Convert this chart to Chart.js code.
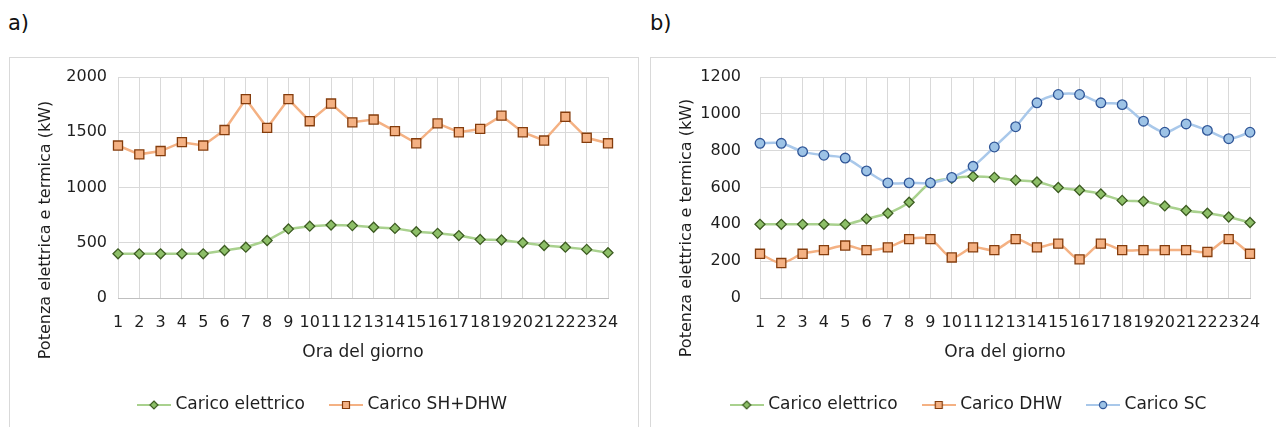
<!DOCTYPE html>
<html>
<head>
<meta charset="utf-8">
<script src="https://cdn.jsdelivr.net/npm/chart.js@4.4.1/dist/chart.umd.min.js"></script>
<style>
  html, body { margin: 0; padding: 0; background: #fff; width: 1276px; height: 427px; overflow: hidden; position: relative; font-family: 'DejaVu Sans', sans-serif; }
  .tag { position: absolute; top: 13px; font-size: 21px; line-height: 21px; color: #111; }
  .box { position: absolute; top: 57px; height: 420px; border: 1px solid #d9d9d9; background: #fff; }
  .box canvas { position: absolute; left: 0; top: 0; }
</style>
</head>
<body>
<div class="tag" style="left:8px">a)</div>
<div class="tag" style="left:650px">b)</div>
<div class="box" style="left:9px;width:628px"><canvas id="chartA" width="628" height="369"></canvas></div>
<div class="box" style="left:650px;width:638px"><canvas id="chartB" width="638" height="369"></canvas></div>
<script>
const hours = ['1','2','3','4','5','6','7','8','9','10','11','12','13','14','15','16','17','18','19','20','21','22','23','24'];

// electric load, same profile in both panels (kW)
const caricoElettrico = [400, 400, 400, 400, 400, 430, 460, 520, 625, 650, 660, 655, 640, 630, 600, 585, 565, 530, 525, 500, 475, 460, 440, 410];
// panel a: space heating + DHW (kW)
const caricoShDhw = [1380, 1300, 1330, 1410, 1380, 1520, 1800, 1540, 1800, 1600, 1760, 1590, 1615, 1510, 1400, 1580, 1500, 1530, 1650, 1500, 1425, 1640, 1450, 1400];
// panel b: DHW only and space cooling (kW)
const caricoDhw = [240, 190, 240, 260, 285, 260, 275, 320, 320, 220, 275, 260, 320, 275, 295, 210, 295, 260, 260, 260, 260, 250, 320, 240];
const caricoSc = [840, 840, 795, 775, 760, 690, 625, 625, 625, 655, 715, 820, 930, 1060, 1105, 1105, 1060, 1050, 960, 900, 945, 910, 865, 900];

const yTicksA = [0, 500, 1000, 1500, 2000];
const yTicksB = [0, 200, 400, 600, 800, 1000, 1200];

const TEXT = '#1e1e1e';
const GRID = '#d9d9d9';
const FONT = 'DejaVu Sans';

const styles = {
  elettrico: { line: '#a9d18e', fill: '#8dbf68', edge: '#3d5c22', shape: 'rectRot', r: 5 },
  orange:    { line: '#f4b183', fill: '#f4b183', edge: '#843c0c', shape: 'rect', r: 6.4 },
  blue:      { line: '#a9c8ea', fill: '#9dc3e6', edge: '#2f5597', shape: 'circle', r: 4.8 }
};

// small line+marker icon used in the legend
function legendIcon(st) {
  const c = document.createElement('canvas');
  c.width = 34; c.height = 12;
  const g = c.getContext('2d');
  g.strokeStyle = st.line; g.lineWidth = 2;
  g.beginPath(); g.moveTo(0, 6); g.lineTo(34, 6); g.stroke();
  g.fillStyle = st.fill; g.strokeStyle = st.edge; g.lineWidth = 1.2;
  g.beginPath();
  if (st.shape === 'rectRot') { g.moveTo(17, 2); g.lineTo(21, 6); g.lineTo(17, 10); g.lineTo(13, 6); g.closePath(); }
  else if (st.shape === 'rect') { g.rect(13.5, 2.5, 7, 7); }
  else { g.arc(17, 6, 3.6, 0, Math.PI * 2); }
  g.fill(); g.stroke();
  return c;
}

function series(label, data, st, order, tension) {
  return {
    label, data, order,
    borderColor: st.line, borderWidth: 2.5, tension,
    pointStyle: st.shape, pointRadius: st.r, pointHoverRadius: st.r,
    pointBackgroundColor: st.fill, pointBorderColor: st.edge, pointBorderWidth: 1.3,
    legendIcon: legendIcon(st)
  };
}

// rotated y-axis caption, centred on the whole panel rather than the plot
const yCaption = {
  id: 'yCaption',
  afterDraw(chart, args, opts) {
    const ctx = chart.ctx;
    ctx.save();
    ctx.translate(opts.x, opts.y);
    ctx.rotate(-Math.PI / 2);
    ctx.font = '16px "' + FONT + '"';
    ctx.fillStyle = TEXT;
    ctx.textAlign = 'center';
    ctx.textBaseline = 'middle';
    ctx.fillText(opts.text, 0, 0);
    ctx.restore();
  }
};

// legend centred on the full canvas width
const wideLegend = {
  id: 'wideLegend',
  afterLayout(chart) { chart.legend.left = 0; chart.legend.right = chart.width; }
};

function makeChart(id, datasets, yTicks, opt) {
  const step = yTicks[1] - yTicks[0];
  return new Chart(document.getElementById(id), {
    type: 'line',
    data: { labels: hours, datasets },
    plugins: [yCaption, wideLegend],
    options: {
      responsive: false, animation: false, devicePixelRatio: 1,
      layout: { padding: { left: 0, right: opt.padRight, top: 19, bottom: 3.5 } },
      scales: {
        x: {
          grid: { color: GRID, drawTicks: false },
          border: { color: '#bfbfbf' },
          ticks: { autoSkip: false, maxRotation: 0, padding: 15, color: TEXT, font: { family: FONT, size: 16 } },
          title: { display: true, text: 'Ora del giorno', color: TEXT, font: { family: FONT, size: 17 }, padding: { top: 0, bottom: 5.3 } },
          afterFit(s) { s.height = 70.5; }
        },
        y: {
          min: yTicks[0], max: yTicks[yTicks.length - 1],
          grid: { color: GRID, drawTicks: false },
          border: { display: false },
          ticks: { stepSize: step, padding: opt.tickPad, color: TEXT, font: { family: FONT, size: 16 }, callback: v => String(v) },
          afterFit(s) { s.width = opt.yWidth; s.paddingTop = 10; s.paddingBottom = 10; }
        }
      },
      plugins: {
        tooltip: { enabled: false },
        yCaption: { text: 'Potenza elettrica e termica (kW)', x: 36, y: opt.captionY },
        legend: {
          position: 'bottom',
          labels: {
            usePointStyle: true, pointStyleWidth: 26, padding: 28,
            color: TEXT, font: { family: FONT, size: 17 },
            generateLabels(chart) {
              return Chart.defaults.plugins.legend.labels.generateLabels(chart)
                .sort((a, b) => a.datasetIndex - b.datasetIndex)
                .map(item => Object.assign(item, { pointStyle: chart.data.datasets[item.datasetIndex].legendIcon }));
            }
          }
        }
      }
    }
  });
}

makeChart('chartA', [
  series('Carico elettrico', caricoElettrico, styles.elettrico, 2, 0),
  series('Carico SH+DHW', caricoShDhw, styles.orange, 1, 0)
], yTicksA, { padRight: 30, yWidth: 108, tickPad: 11, captionY: 172 });

makeChart('chartB', [
  series('Carico elettrico', caricoElettrico, styles.elettrico, 3, 0.3),
  series('Carico DHW', caricoDhw, styles.orange, 2, 0.3),
  series('Carico SC', caricoSc, styles.blue, 1, 0.3)
], yTicksB, { padRight: 39, yWidth: 109, tickPad: 19, captionY: 170 });
</script>
</body>
</html>
